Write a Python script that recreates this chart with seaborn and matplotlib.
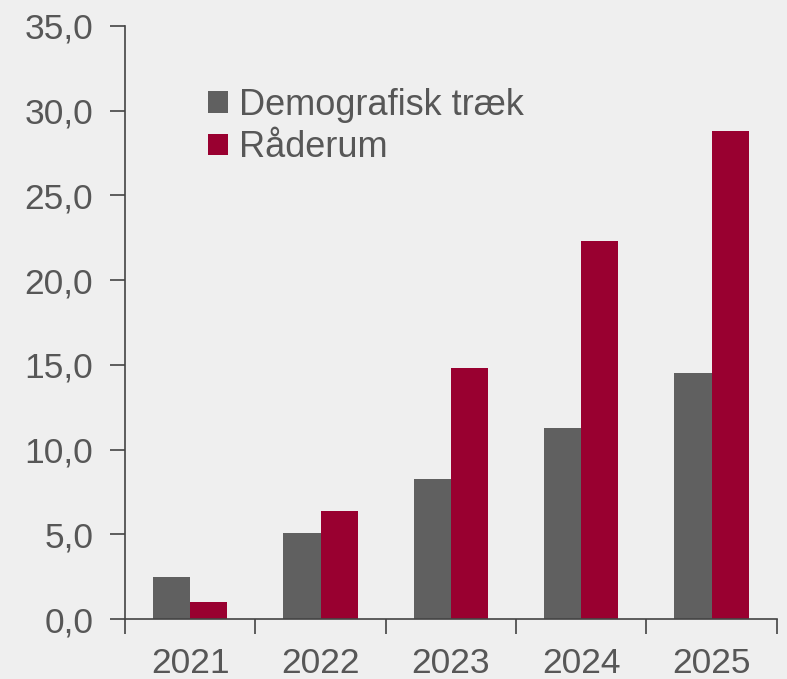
import pandas as pd
import numpy as np
import seaborn as sns
import matplotlib.pyplot as plt
from matplotlib.ticker import FuncFormatter

years = ['2021', '2022', '2023', '2024', '2025']
demografisk = [2.5, 5.1, 8.3, 11.3, 14.5]
raaderum = [1.0, 6.4, 14.8, 22.3, 28.8]
series_names = ['Demografisk træk', 'Råderum']
y_ticks = [0, 5, 10, 15, 20, 25, 30, 35]

BG = '#efefef'
TXT = '#575757'

df = pd.DataFrame({'year': years, series_names[0]: demografisk, series_names[1]: raaderum})
df_melted = df.melt(id_vars='year', var_name='serie', value_name='value')

sns.set_style('white')
plt.rcParams['font.family'] = ['Liberation Sans', 'DejaVu Sans']

fig = plt.figure(figsize=(7.87, 6.79), dpi=100, facecolor=BG)
ax = fig.add_axes([0.159, 0.088, 0.828, 0.874])
ax.set_facecolor(BG)

sns.barplot(data=df_melted, x='year', y='value', hue='serie',
            palette=['#606060', '#990030'], width=0.57, gap=0,
            saturation=1, ax=ax, linewidth=0)

ax.set_ylim(0, 35)
ax.set_xlim(-0.5, 4.5)
ax.set_yticks(y_ticks)
ax.yaxis.set_major_formatter(FuncFormatter(lambda v, p: f'{v:.1f}'.replace('.', ',')))
ax.set_xlabel('')
ax.set_ylabel('')

# category boundary ticks on the x axis
ax.set_xticks(np.arange(-0.5, 5, 1), minor=True)
ax.tick_params(axis='x', which='major', bottom=True, length=0, pad=20, labelsize=25.5, labelcolor=TXT)
ax.tick_params(axis='x', which='minor', bottom=True, length=11, width=1.2, color='#444444', direction='out')
ax.tick_params(axis='y', left=True, length=11, width=1.2, color='#444444', direction='out',
               pad=12, labelsize=25.5, labelcolor=TXT)

sns.despine(ax=ax, right=True, top=True)
for s in ['left', 'bottom']:
    ax.spines[s].set_color('#444444')
    ax.spines[s].set_linewidth(1.2)

leg = ax.legend(loc='upper left', bbox_to_anchor=(0.077, 0.95), frameon=False,
                fontsize=26, handlelength=0.55, handleheight=0.55, handletextpad=0.3,
                labelspacing=0.2, labelcolor=TXT)

plt.savefig('out.png', dpi=100, facecolor=BG)
